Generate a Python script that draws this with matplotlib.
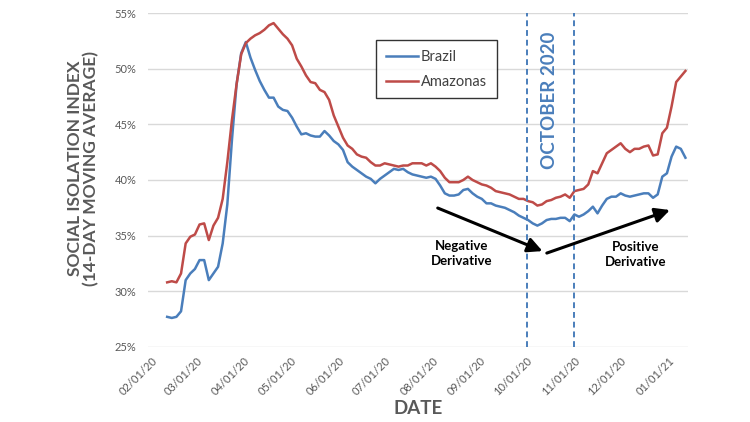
import matplotlib
matplotlib.use("Agg")
import matplotlib.pyplot as plt
import matplotlib.dates as mdates
import pandas as pd

plt.rcParams["font.family"] = ["Lato", "DejaVu Sans"]

# 14-day moving average of the social isolation index (%), read every 3 days
dates = pd.date_range("2020-02-11", periods=113, freq="3D")

brazil = [
    27.7, 27.6, 27.7, 28.2, 31.0, 31.6, 32.0, 32.8, 32.8, 31.0,
    31.6, 32.2, 34.3, 37.8, 43.6, 48.6, 51.4, 52.4, 51.0, 49.9,
    48.9, 48.1, 47.4, 47.4, 46.6, 46.3, 46.2, 45.6, 44.8, 44.1,
    44.2, 44.0, 43.9, 43.9, 44.4, 44.0, 43.5, 43.2, 42.7, 41.6,
    41.2, 40.9, 40.6, 40.3, 40.1, 39.7, 40.1, 40.4, 40.7, 41.0,
    40.9, 41.0, 40.7, 40.5, 40.4, 40.3, 40.2, 40.3, 40.1, 39.5,
    38.8, 38.6, 38.6, 38.7, 39.1, 39.2, 38.8, 38.5, 38.3, 37.9,
    37.9, 37.7, 37.6, 37.5, 37.3, 37.1, 36.8, 36.6, 36.4, 36.1,
    35.9, 36.1, 36.4, 36.5, 36.5, 36.6, 36.6, 36.3, 36.9, 36.7,
    36.9, 37.2, 37.6, 37.0, 37.7, 38.3, 38.5, 38.5, 38.8, 38.6,
    38.5, 38.6, 38.7, 38.8, 38.8, 38.4, 38.7, 40.3, 40.6, 42.1,
    43.0, 42.8, 42.0,
]

amazonas = [
    30.8, 30.9, 30.8, 31.6, 34.3, 34.9, 35.1, 36.0, 36.1, 34.6,
    35.9, 36.6, 38.3, 41.6, 45.4, 48.6, 51.3, 52.3, 52.7, 53.0,
    53.2, 53.5, 53.9, 54.1, 53.6, 53.1, 52.7, 52.1, 50.9, 50.2,
    49.4, 48.8, 48.7, 48.1, 47.9, 47.2, 45.8, 44.8, 43.8, 43.1,
    42.8, 42.3, 42.1, 42.0, 41.6, 41.3, 41.3, 41.5, 41.4, 41.3,
    41.2, 41.3, 41.3, 41.5, 41.5, 41.5, 41.3, 41.5, 41.2, 40.8,
    40.2, 39.8, 39.8, 39.8, 40.0, 40.3, 40.0, 39.8, 39.6, 39.5,
    39.3, 39.0, 38.9, 38.8, 38.7, 38.5, 38.3, 38.3, 38.1, 38.0,
    37.7, 37.8, 38.1, 38.2, 38.4, 38.5, 38.7, 38.4, 39.0, 39.1,
    39.2, 39.6, 40.8, 40.6, 41.5, 42.4, 42.7, 43.0, 43.3, 42.8,
    42.5, 42.8, 42.8, 43.0, 43.1, 42.2, 42.3, 44.2, 44.7, 46.6,
    48.8, 49.3, 49.8,
]

october_bounds = ["2020-10-01", "2020-11-01"]
month_ticks = pd.date_range("2020-02-01", "2021-01-01", freq="MS")

blue = "#4A7EBB"
red = "#BE4B48"
gray = "#595959"

fig = plt.figure(figsize=(7.5, 4.22), dpi=100)
ax = fig.add_axes([0.197, 0.178, 0.72, 0.791])

ax.plot(dates, brazil, color=blue, lw=1.8, label="Brazil")
ax.plot(dates, amazonas, color=red, lw=1.8, label="Amazonas")

for d in october_bounds:
    ax.axvline(pd.Timestamp(d), color=blue, ls=(0, (3, 2)), lw=1.4)

ax.set_xlim(pd.Timestamp("2020-01-29 10:00"), pd.Timestamp("2021-01-13 12:00"))
ax.set_ylim(25, 55)
ax.set_yticks(range(25, 56, 5))
ax.set_yticklabels([f"{v}%" for v in range(25, 56, 5)])
ax.set_xticks(month_ticks)
ax.xaxis.set_major_formatter(mdates.DateFormatter("%m/%d/%y"))
for lab in ax.get_xticklabels():
    lab.set_rotation(45)
    lab.set_ha("right")
    lab.set_rotation_mode("anchor")

ax.tick_params(axis="both", length=0, labelsize=8, labelcolor=gray)
ax.tick_params(axis="y", pad=8)
ax.tick_params(axis="x", pad=6)
ax.grid(axis="y", color="#D9D9D9", lw=1)
ax.set_axisbelow(True)
for s in ax.spines.values():
    s.set_visible(False)

ax.set_ylabel("SOCIAL ISOLATION INDEX\n(14-DAY MOVING AVERAGE)", fontsize=12.5,
              fontweight="bold", color=gray, linespacing=1.05)
ax.yaxis.set_label_coords(-0.089, 0.535)
ax.set_xlabel("DATE", fontsize=13.5, fontweight="bold", color=gray)
ax.xaxis.set_label_coords(0.5, -0.16)

leg = ax.legend(loc="upper left", bbox_to_anchor=(0.41, 0.94), fontsize=10.5,
                frameon=True, fancybox=False, handlelength=2.2, labelspacing=0.75,
                borderpad=0.65, handletextpad=0.2)
leg.get_frame().set_edgecolor("black")
leg.get_frame().set_linewidth(1.0)
for t in leg.get_texts():
    t.set_color("#404040")

ax.text(0.744, 0.74, "OCTOBER 2020", transform=ax.transAxes, rotation=90,
        ha="center", va="center", fontsize=13.5, fontweight="bold", color=blue)

arrow = dict(arrowstyle="-|>", color="black", lw=2.2, mutation_scale=22,
             shrinkA=0, shrinkB=0)
ax.annotate("", xy=(0.731, 0.287), xytext=(0.537, 0.416),
            xycoords="axes fraction", arrowprops=arrow)
ax.annotate("", xy=(0.967, 0.410), xytext=(0.739, 0.281),
            xycoords="axes fraction", arrowprops=arrow)
ax.text(0.581, 0.281, "Negative\nDerivative", transform=ax.transAxes,
        ha="center", va="center", fontsize=9.5, fontweight="bold", linespacing=1.3)
ax.text(0.904, 0.278, "Positive\nDerivative", transform=ax.transAxes,
        ha="center", va="center", fontsize=9.5, fontweight="bold", linespacing=1.3)

fig.savefig("out.png", dpi=100)
